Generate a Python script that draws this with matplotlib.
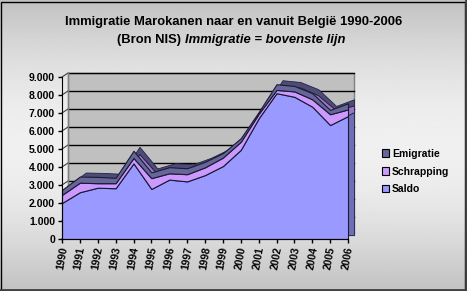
import numpy as np
import matplotlib
matplotlib.use("Agg")
import matplotlib.pyplot as plt
import matplotlib.patches as mpatches
from matplotlib.ticker import FuncFormatter

plt.rcParams["font.family"] = ["Liberation Sans", "DejaVu Sans"]

# ─── DATA ─────────────────────────────────────────────────────────────────────
jaren = list(range(1990, 2007))
saldo = [2000, 2600, 2850, 2820, 4200, 2780, 3300, 3200, 3550, 4050,
         4950, 6700, 8100, 7900, 7350, 6330, 6830]
schrapping = [450, 530, 250, 280, 300, 600, 350, 400, 430, 470,
              450, 250, 180, 300, 410, 600, 370]
emigratie = [280, 340, 350, 300, 400, 320, 340, 330, 310, 250,
             200, 100, 320, 300, 340, 240, 340]
series = ["Saldo", "Schrapping", "Emigratie"]
kleuren = ["#9999FF", "#CC99FF", "#666699"]
donker = ["#6E6EB8", "#9A77C4", "#4C4C77"]

W, H = 467, 291
fig = plt.figure(figsize=(W / 100, H / 100), dpi=100)

# achtergrond met verloop (donker boven/onder, licht in het midden)
bg = fig.add_axes([0, 0, 1, 1], zorder=-10)
yy = np.linspace(0, 1, 300)
grad = 0.76 + 0.18 * np.sin(np.pi * yy)
bg.imshow(grad[:, None], aspect="auto", cmap="gray", vmin=0, vmax=1,
          extent=[0, 1, 0, 1])
bg.set_xlim(0, 1); bg.set_ylim(0, 1)
bg.axis("off")
bg.add_patch(mpatches.Rectangle((0.5 / W, 0.5 / H), 1 - 2.5 / W, 1 - 2.5 / H,
                                fill=False, ec="black", lw=1))
bg.plot([1 - 1 / W, 1 - 1 / W], [0, 1], color="#404040", lw=2)
bg.plot([0, 1], [1 / H, 1 / H], color="#404040", lw=2)

# ─── GRAFIEK ──────────────────────────────────────────────────────────────────
x0, x1, yb, yt = 62, 348, 239, 77
ax = fig.add_axes([x0 / W, 1 - yb / H, (x1 - x0) / W, (yb - yt) / H])
ax.set_facecolor("none")
ax.set_xlim(1990, 2006)
ax.set_ylim(0, 9000)

# 3D-verschuiving in data-eenheden
dx = 16 * 6 / (x1 - x0)
dy = 9000 * 4 / (yb - yt)

ax.add_patch(mpatches.Rectangle((1990 + dx, dy), 16, 9000, fc="#C0C0C0",
                                ec="#808080", lw=1, clip_on=False, zorder=0))
for v in range(1000, 9001, 1000):
    ax.plot([1990 + dx, 2006 + dx], [v + dy, v + dy], color="black", lw=1,
            clip_on=False, zorder=1)
for v in range(0, 9001, 1000):
    ax.plot([1990, 1990 + dx], [v, v + dy], color="#404040", lw=0.8,
            clip_on=False, zorder=1)
ax.plot([1990 + dx, 1990 + dx], [dy, 9000 + dy], color="#808080", lw=1,
        clip_on=False, zorder=1)

stack = np.vstack([saldo, schrapping, emigratie])
cum = np.cumsum(stack, axis=0)
xs = np.array(jaren, dtype=float)

# achterkant (diepte)
onder = np.zeros(len(jaren))
for i in range(3):
    ax.fill_between(xs + dx, onder + dy, cum[i] + dy, color=donker[i],
                    lw=0.6, edgecolor="#222244", clip_on=False, zorder=2)
    onder = cum[i]
# voorkant
onder = np.zeros(len(jaren))
for i in range(3):
    ax.fill_between(xs, onder, cum[i], color=kleuren[i], lw=0.8,
                    edgecolor="#1a1a33", clip_on=False, zorder=3)
    onder = cum[i]

for s in ["top", "right"]:
    ax.spines[s].set_visible(False)
for s in ["left", "bottom"]:
    ax.spines[s].set_color("black")
    ax.spines[s].set_zorder(5)

ax.set_yticks(range(0, 9001, 1000))
ax.yaxis.set_major_formatter(FuncFormatter(lambda v, p: f"{int(v):,}".replace(",", ".")))
ax.set_xticks(jaren)
ax.set_xticklabels([str(j) for j in jaren], rotation=80, ha="center", va="top")
ax.tick_params(axis="both", length=3, width=1, color="black", labelsize=7.5,
               pad=2)
for lab in ax.get_yticklabels() + ax.get_xticklabels():
    lab.set_fontweight("bold")

# ─── TITEL ────────────────────────────────────────────────────────────────────
fig.text(0.5, 1 - 22 / H, "Immigratie Marokanen naar en vanuit België 1990-2006",
         ha="center", va="center", fontsize=9.4, fontweight="bold")
fig.text(181 / W, 1 - 40 / H, "(Bron NIS)", ha="right", va="center",
         fontsize=9.4, fontweight="bold")
fig.text(185 / W, 1 - 40 / H, "Immigratie = bovenste lijn", ha="left",
         va="center", fontsize=9.4, fontweight="bold", fontstyle="italic")

# ─── LEGENDA ──────────────────────────────────────────────────────────────────
handles = [mpatches.Patch(fc=kleuren[i], ec="black", lw=0.8, label=series[i])
           for i in [2, 1, 0]]
leg = fig.legend(handles=handles, loc="upper left",
                 bbox_to_anchor=(376 / W, 1 - 143 / H), frameon=True,
                 fancybox=False, edgecolor="black", framealpha=0,
                 prop={"size": 7.5, "weight": "bold"}, handlelength=0.7,
                 handleheight=0.7, handletextpad=0.3, labelspacing=0.75,
                 borderpad=0.55, borderaxespad=0)
leg.get_frame().set_linewidth(1)

fig.savefig("out.png", dpi=100)
